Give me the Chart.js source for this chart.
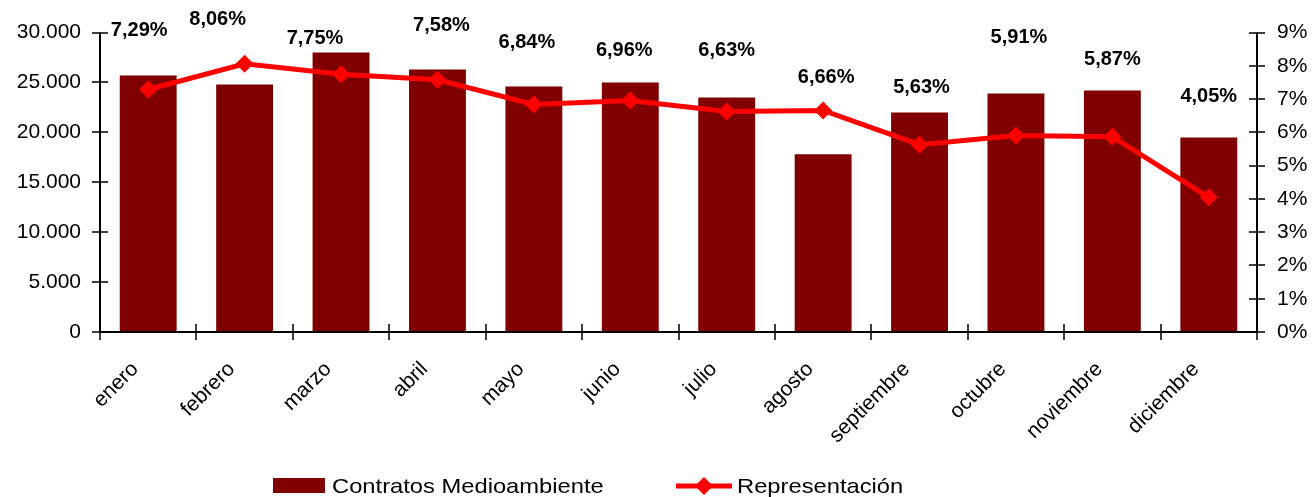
<!DOCTYPE html>
<html>
<head>
<meta charset="utf-8">
<title>Contratos Medioambiente</title>
<script src="https://cdn.jsdelivr.net/npm/chart.js@4/dist/chart.umd.min.js"></script>
<style>
  html, body { margin: 0; padding: 0; background: #fff; }
  #wrap { position: relative; width: 1312px; height: 497px; }
</style>
</head>
<body>
<div id="wrap"><canvas id="mainChart"></canvas></div>
<script>
// datos
const meses = ["enero", "febrero", "marzo", "abril", "mayo", "junio", "julio", "agosto", "septiembre", "octubre", "noviembre", "diciembre"];
const contratos = [25700, 24800, 28000, 26300, 24600, 25000, 23500, 17800, 22000, 23900, 24200, 19500];
const representacion = [7.29, 8.06, 7.75, 7.58, 6.84, 6.96, 6.63, 6.66, 5.63, 5.91, 5.87, 4.05];
const serieBarras = "Contratos Medioambiente";
const serieLinea = "Representación";

const fontName = "'Liberation Sans', Arial, sans-serif";

// desplazamiento de las etiquetas (a mano, como en el original)
const labelShift = [
  [-9, -59], [-27, -44], [-26, -36], [4, -54], [-7, -62], [-6, -50],
  [0, -61], [3, -33], [2, -57], [3, -98], [0, -77], [0, -101],
];

function miles(v) {
  return String(v).replace(/\B(?=(\d{3})+(?!\d))/g, ".");
}

// ejes con marcas cruzadas
const axesPlugin = {
  id: "axesPlugin",
  afterDatasetsDraw(chart) {
    const ctx = chart.ctx;
    const area = chart.chartArea;
    const x = chart.scales.x;
    const y = chart.scales.y;
    const y1 = chart.scales.y1;
    ctx.save();
    ctx.strokeStyle = "#000";
    ctx.lineWidth = 2;
    ctx.beginPath();
    ctx.moveTo(area.left, y.getPixelForValue(30000));
    ctx.lineTo(area.left, area.bottom);
    ctx.lineTo(area.right, area.bottom);
    ctx.lineTo(area.right, y1.getPixelForValue(9));
    ctx.stroke();

    ctx.lineWidth = 1.5;
    ctx.beginPath();
    y.ticks.forEach((t) => {
      const py = Math.round(y.getPixelForValue(t.value));
      ctx.moveTo(area.left - 8, py);
      ctx.lineTo(area.left + 8, py);
    });
    y1.ticks.forEach((t) => {
      const py = Math.round(y1.getPixelForValue(t.value));
      ctx.moveTo(area.right - 8, py);
      ctx.lineTo(area.right + 8, py);
    });
    const step = x.getPixelForTick(1) - x.getPixelForTick(0);
    for (let i = 0; i <= meses.length; i++) {
      const px = Math.round(x.getPixelForTick(0) - step / 2 + i * step);
      ctx.moveTo(px, area.bottom - 8);
      ctx.lineTo(px, area.bottom + 8);
    }
    ctx.stroke();
    ctx.restore();
  },
};

// etiquetas de porcentaje
const labelsPlugin = {
  id: "labelsPlugin",
  afterDraw(chart) {
    const ctx = chart.ctx;
    const meta = chart.getDatasetMeta(1);
    ctx.save();
    ctx.fillStyle = "#000";
    ctx.font = "bold 20px " + fontName;
    ctx.textAlign = "center";
    ctx.textBaseline = "middle";
    meta.data.forEach((pt, i) => {
      const txt = representacion[i].toFixed(2).replace(".", ",") + "%";
      ctx.fillText(txt, pt.x + labelShift[i][0], pt.y + labelShift[i][1]);
    });
    ctx.restore();
  },
};

// leyenda dibujada a mano (texto algo ancho, como en el original)
function wideText(ctx, txt, x, y) {
  ctx.save();
  ctx.translate(x, y);
  ctx.scale(1.13, 1);
  ctx.fillText(txt, 0, 0);
  ctx.restore();
}

const legendPlugin = {
  id: "legendPlugin",
  afterDraw(chart) {
    const ctx = chart.ctx;
    const cy = 486;
    ctx.save();
    ctx.font = "21px " + fontName;
    ctx.textBaseline = "middle";
    ctx.fillStyle = "#800000";
    ctx.fillRect(273, cy - 8, 52, 15);
    ctx.fillStyle = "#000";
    wideText(ctx, serieBarras, 332, cy + 1);

    ctx.strokeStyle = "#ff0000";
    ctx.lineWidth = 5;
    ctx.beginPath();
    ctx.moveTo(676, cy);
    ctx.lineTo(732, cy);
    ctx.stroke();
    ctx.fillStyle = "#ff0000";
    ctx.beginPath();
    ctx.moveTo(704, cy - 9);
    ctx.lineTo(713, cy);
    ctx.lineTo(704, cy + 9);
    ctx.lineTo(695, cy);
    ctx.closePath();
    ctx.fill();
    ctx.fillStyle = "#000";
    wideText(ctx, serieLinea, 737, cy + 1);
    ctx.restore();
  },
};

const ctx = document.getElementById("mainChart").getContext("2d");
new Chart(ctx, {
  type: "bar",
  data: {
    labels: meses,
    datasets: [
      {
        label: serieBarras,
        data: contratos,
        backgroundColor: "#800000",
        borderWidth: 0,
        categoryPercentage: 1,
        barPercentage: 0.59,
        yAxisID: "y",
        order: 2,
      },
      {
        type: "line",
        label: serieLinea,
        data: representacion,
        borderColor: "#ff0000",
        backgroundColor: "#ff0000",
        borderWidth: 5,
        tension: 0,
        pointStyle: "rectRot",
        pointRadius: 9,
        pointBackgroundColor: "#ff0000",
        pointBorderWidth: 0,
        yAxisID: "y1",
        order: 1,
      },
    ],
  },
  options: {
    responsive: true,
    maintainAspectRatio: false,
    animation: false,
    layout: { padding: { top: 32, left: 0, right: 0, bottom: 0 } },
    plugins: {
      legend: { display: false },
      tooltip: { enabled: false },
    },
    scales: {
      x: {
        offset: true,
        grid: { display: false, drawTicks: false },
        border: { display: false },
        ticks: {
          color: "#000",
          font: { family: fontName, size: 21 },
          minRotation: 45,
          maxRotation: 45,
          padding: 25,
          labelOffset: -13,
        },
        afterFit(scale) {
          scale.height = 165;
        },
      },
      y: {
        position: "left",
        min: 0,
        max: 30000,
        grid: { display: false, drawTicks: false },
        border: { display: false },
        ticks: {
          stepSize: 5000,
          color: "#000",
          font: { family: fontName, size: 21 },
          padding: 19,
          callback: (v) => miles(v),
        },
        afterFit(scale) {
          scale.width = 100;
        },
      },
      y1: {
        position: "right",
        min: 0,
        max: 9,
        grid: { display: false, drawTicks: false },
        border: { display: false },
        ticks: {
          stepSize: 1,
          color: "#000",
          font: { family: fontName, size: 21 },
          padding: 20,
          callback: (v) => v + "%",
        },
        afterFit(scale) {
          scale.width = 55;
        },
      },
    },
  },
  plugins: [axesPlugin, labelsPlugin, legendPlugin],
});
</script>
</body>
</html>
